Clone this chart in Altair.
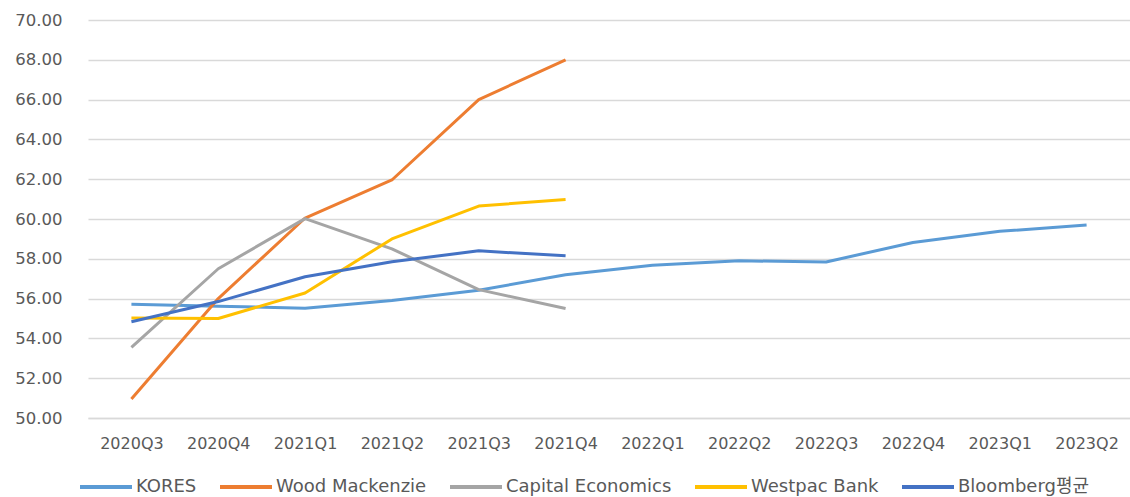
import altair as alt
import pandas as pd

quarters = ["2020Q3", "2020Q4", "2021Q1", "2021Q2", "2021Q3", "2021Q4",
            "2022Q1", "2022Q2", "2022Q3", "2022Q4", "2023Q1", "2023Q2"]
series_names = ["KORES", "Wood Mackenzie", "Capital Economics", "Westpac Bank", "Bloomberg평균"]
kores = [55.72, 55.62, 55.52, 55.90, 56.42, 57.20, 57.68, 57.90, 57.84, 58.82, 59.38, 59.70]
wood_mackenzie = [50.95, 56.00, 60.05, 61.96, 66.00, 68.00]
capital_economics = [53.55, 57.50, 60.02, 58.50, 56.45, 55.50]
westpac_bank = [55.02, 55.00, 56.28, 59.00, 60.65, 60.98]
bloomberg_avg = [54.84, 55.85, 57.10, 57.85, 58.40, 58.15]
colors = ["#5B9BD5", "#ED7D31", "#A5A5A5", "#FFC000", "#4472C4"]

all_values = [kores, wood_mackenzie, capital_economics, westpac_bank, bloomberg_avg]
rows = []
for name, vals in zip(series_names, all_values):
    for q, v in zip(quarters, vals):
        rows.append({"quarter": q, "value": v, "series": name})
df = pd.DataFrame(rows)

FONT = "DejaVu Sans, Noto Sans CJK KR, sans-serif"
TXT = "#595959"

chart = alt.Chart(df).mark_line(strokeWidth=3, strokeJoin="round").encode(
    x=alt.X("quarter:N", sort=quarters,
            scale=alt.Scale(type="point", padding=0.5),
            axis=alt.Axis(title=None, labelAngle=0, ticks=False, domain=True,
                          domainColor="#D9D9D9", domainWidth=1.5,
                          labelFont=FONT, labelFontSize=16, labelColor=TXT,
                          labelPadding=17)),
    y=alt.Y("value:Q",
            scale=alt.Scale(domain=[50, 70], nice=False, zero=False),
            axis=alt.Axis(title=None, values=list(range(50, 71, 2)), format=".2f",
                          ticks=False, domain=False, grid=True,
                          gridColor="#D9D9D9", gridWidth=1.5,
                          labelFont=FONT, labelFontSize=16.5, labelColor=TXT,
                          labelPadding=26)),
    color=alt.Color("series:N", sort=series_names,
                    scale=alt.Scale(domain=series_names, range=colors),
                    legend=alt.Legend(title=None, orient="none", direction="horizontal",
                                      legendX=-10, legendY=439,
                                      symbolType="stroke", symbolSize=2704,
                                      symbolStrokeWidth=4, labelOffset=2,
                                      columnPadding=15,
                                      labelFont=FONT, labelFontSize=18,
                                      labelColor=TXT, labelLimit=400)),
    order=alt.Order("series_order:Q"),
).transform_calculate(
    series_order="indexof(['KORES','Wood Mackenzie','Capital Economics','Westpac Bank','Bloomberg평균'], datum.series)"
).properties(
    width=1042, height=398,
    background="white",
    autosize=alt.AutoSizeParams(type="none"),
    padding={"left": 88, "top": 20, "right": 0, "bottom": 79},
).configure_view(strokeWidth=0, stroke=None)

chart.save("out.html", embed_options={"renderer": "svg", "actions": False})
